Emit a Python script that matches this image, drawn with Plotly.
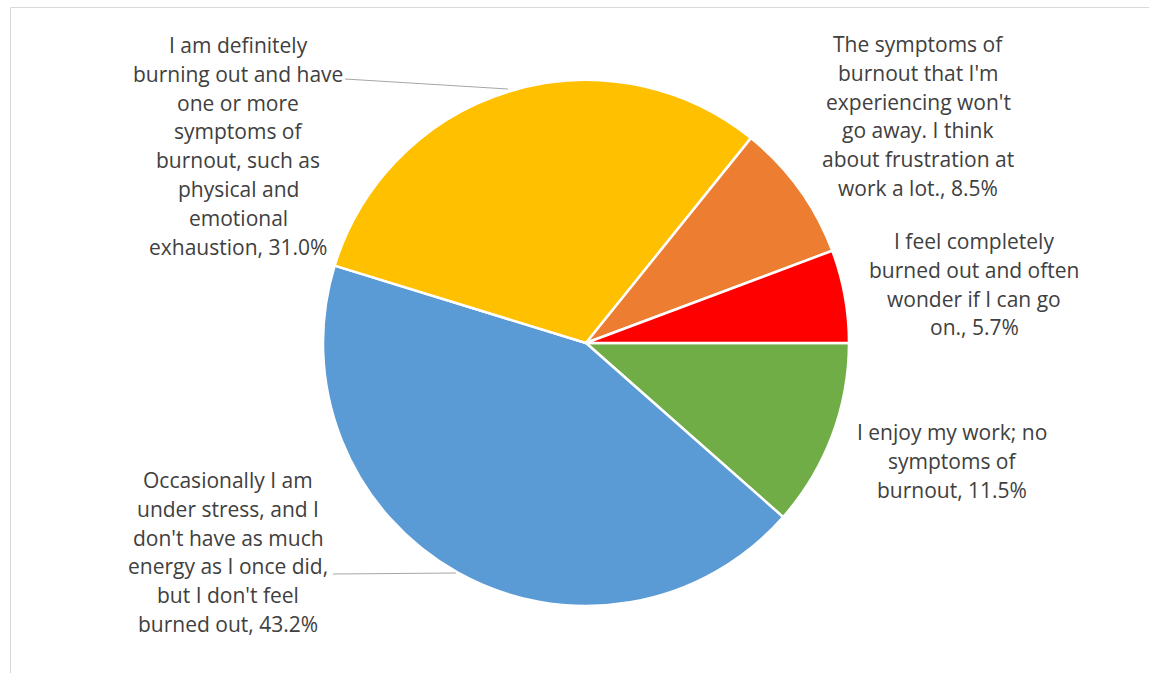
import plotly.graph_objects as go

# Survey responses, in drawing order (clockwise from 3 o'clock)
categories = [
    "I enjoy my work; no symptoms of burnout",
    "Occasionally I am under stress, and I don't have as much energy as I once did, but I don't feel burned out",
    "I am definitely burning out and have one or more symptoms of burnout, such as physical and emotional exhaustion",
    "The symptoms of burnout that I'm experiencing won't go away. I think about frustration at work a lot.",
    "I feel completely burned out and often wonder if I can go on.",
]
values = [11.5, 43.2, 31.0, 8.5, 5.7]
colors = ["#70AD47", "#5B9BD5", "#FFC000", "#ED7D31", "#FF0000"]

# Wrapped label lines (the value is appended to the final line)
label_lines = [
    ["I enjoy my work; no", "symptoms of", "burnout,"],
    ["Occasionally I am", "under stress, and I", "don't have as much",
     "energy as I once did,", "but I don't feel", "burned out,"],
    ["I am definitely", "burning out and have", "one or more", "symptoms of",
     "burnout, such as", "physical and", "emotional", "exhaustion,"],
    ["The symptoms of", "burnout that I'm", "experiencing won't",
     "go away. I think", "about frustration at", "work a lot.,"],
    ["I feel completely", "burned out and often", "wonder if I can go", "on.,"],
]

W, H = 1149, 673
# label block placement in pixels: (center x, first line center y)
label_pos = [(952, 432), (228, 480), (238, 45), (918, 44), (974, 241)]
line_step = 28.8

# leader lines in pixels
leaders = [((345, 79), (508, 89)), ((333, 574), (456, 573))]

cx, cy, r = 586, 343, 263

fig = go.Figure(
    go.Pie(
        labels=categories,
        values=values,
        sort=False,
        direction="clockwise",
        rotation=90,
        textinfo="none",
        hoverinfo="label+percent",
        marker=dict(colors=colors, line=dict(color="white", width=2.5)),
        domain=dict(x=[(cx - r) / W, (cx + r) / W],
                    y=[1 - (cy + r) / H, 1 - (cy - r) / H]),
        showlegend=False,
    )
)

annotations = []
for lines, v, (x, y0) in zip(label_lines, values, label_pos):
    full = lines[:-1] + [f"{lines[-1]} {v:.1f}%"]
    for i, line in enumerate(full):
        annotations.append(dict(
            x=x / W, y=1 - (y0 + i * line_step) / H,
            xref="paper", yref="paper", xanchor="center", yanchor="middle",
            text=line, showarrow=False,
            font=dict(family="Open Sans", size=21, color="#404040"),
        ))

shapes = [
    dict(type="line", xref="paper", yref="paper",
         x0=10.5 / W, x1=1, y0=1 - 7.5 / H, y1=1 - 7.5 / H,
         line=dict(color="#D9D9D9", width=1)),
    dict(type="line", xref="paper", yref="paper",
         x0=10.5 / W, x1=10.5 / W, y0=0, y1=1 - 7.5 / H,
         line=dict(color="#D9D9D9", width=1)),
]
for (x0, y0), (x1, y1) in leaders:
    shapes.append(dict(type="line", xref="paper", yref="paper",
                       x0=x0 / W, y0=1 - y0 / H, x1=x1 / W, y1=1 - y1 / H,
                       line=dict(color="#A6A6A6", width=1.2)))

fig.update_layout(
    width=W, height=H,
    margin=dict(l=0, r=0, t=0, b=0),
    paper_bgcolor="white",
    plot_bgcolor="white",
    annotations=annotations,
    shapes=shapes,
)

fig.write_html("out.html")
